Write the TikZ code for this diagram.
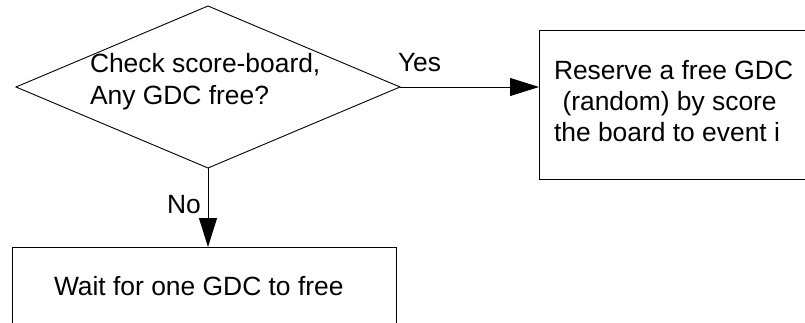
\documentclass[tikz,border=0pt]{standalone}
\usepackage{fontspec}
\setmainfont{Liberation Sans}
\usetikzlibrary{shapes.geometric,arrows.meta}

\tikzset{
  flowline/.style={line width=0.9pt, draw=black},
  decision/.style={flowline, diamond, inner sep=0pt, outer sep=0pt,
    minimum width=384pt, minimum height=162pt},
  stepbox/.style={flowline, rectangle, inner sep=0pt, outer sep=0pt, anchor=north west},
  caption/.style={inner sep=0pt, outer sep=0pt, anchor=base west, align=left,
    font=\fontsize{26.4}{30.8}\selectfont},
  flowarrow/.style={flowline, -{Triangle[length=29pt,width=18pt]}},
}

\begin{document}
\begin{tikzpicture}[x=1pt, y=-1pt]
  \useasboundingbox (0,0) rectangle (805,323);
  \clip (0,0) rectangle (805,323);

  % decision and the two outcomes
  \node[decision] (check) at (208,87) {};
  \node[stepbox, minimum width=300pt, minimum height=148.5pt] (reserve) at (539,30.5) {};
  \node[stepbox, minimum width=384pt, minimum height=100pt] (wait) at (12,247) {};

  % texts (base anchor sits on the last line)
  \node[caption, font=\fontsize{26.4}{32}\selectfont] (checktext) at (90,105)
    {Check score-board,\\Any GDC free?};
  \node[caption] (reservetext) at (554,141.5)
    {Reserve a free GDC\\\hspace{8.5pt}(random) by score\\the board to event i};
  \node[caption] (waittext) at (54,295) {Wait for one GDC to free};

  % connectors
  \draw[flowarrow] (check.east) -- (check.east -| reserve.west);
  \draw[flowarrow] (check.south) -- (check.south |- wait.north);
  \node[caption] (yes) at (398,72) {Yes};
  \node[caption] (no) at (167,213) {No};
\end{tikzpicture}
\end{document}
